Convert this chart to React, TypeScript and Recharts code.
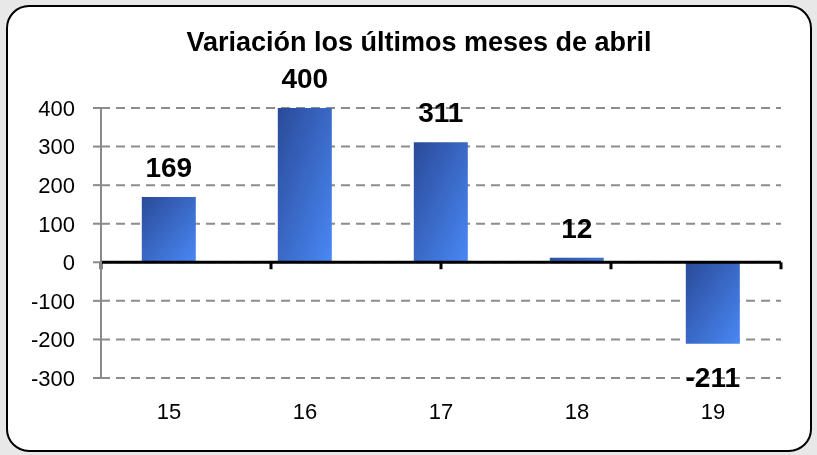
import React from 'react';
import {
  BarChart,
  Bar,
  XAxis,
  YAxis,
  CartesianGrid,
  ReferenceLine,
  LabelList,
} from 'recharts';

const years = ['15', '16', '17', '18', '19'];
const variation = [169, 400, 311, 12, -211];
const yTicks = [-300, -200, -100, 0, 100, 200, 300, 400];

const data = years.map((year, i) => ({ year, value: variation[i] }));
const boundaries = Array.from({ length: years.length + 1 }, (_, i) => i);

const FONT = '"Liberation Sans", Arial, sans-serif';

const renderLabel = (props: any) => {
  const { x, y, width, height, value } = props;
  const top = Math.min(y, y + height);
  const bottom = Math.max(y, y + height);
  const cx = x + width / 2;
  const ty = value >= 0 ? top - 20 : bottom + 43;
  return (
    <text x={cx} y={ty} textAnchor="middle" fontFamily={FONT} fontWeight="bold" fontSize={28} fill="#000">
      {value}
    </text>
  );
};

export default function App() {
  return (
    <div style={{ position: 'fixed', left: 0, top: 0, width: 817, height: 455, background: '#e8e8e8', fontFamily: FONT }}>
      {/* rounded frame behind the chart */}
      <svg width={817} height={455} style={{ position: 'absolute', left: 0, top: 0 }}>
        <rect x={7} y={6} width={804} height={445} rx={22} ry={22} fill="#fff" stroke="#000" strokeWidth={2} />
      </svg>
      <div
        style={{
          position: 'absolute',
          left: 0,
          top: 24,
          width: 838,
          textAlign: 'center',
          fontSize: 27,
          lineHeight: '36px',
          fontWeight: 'bold',
          color: '#000',
        }}
      >
        Variación los últimos meses de abril
      </div>
      <div style={{ position: 'absolute', left: 0, top: 0 }}>
        <BarChart
          width={817}
          height={455}
          data={data}
          margin={{ top: 108, right: 36, left: 41, bottom: 37 }}
          barCategoryGap="30%"
        >
          <defs>
            <linearGradient id="barFill" x1="0" y1="0" x2="1" y2="1">
              <stop offset="0%" stopColor="#2a4a98" />
              <stop offset="100%" stopColor="#4988f5" />
            </linearGradient>
          </defs>
          <CartesianGrid vertical={false} stroke="#8c8c8c" strokeWidth={2} strokeDasharray="9 6" />
          <XAxis
            dataKey="year"
            axisLine={false}
            tickLine={false}
            tickSize={0}
            tickMargin={25}
            height={40}
            tick={{ fill: '#000', fontSize: 22, fontFamily: FONT }}
          />
          <XAxis xAxisId="b" type="number" domain={[0, years.length]} hide />
          <YAxis
            domain={[-300, 400]}
            ticks={yTicks}
            interval={0}
            width={60}
            axisLine={{ stroke: '#898989', strokeWidth: 2 }}
            tickLine={{ stroke: '#898989', strokeWidth: 2 }}
            tickSize={8}
            tickMargin={18}
            tick={{ fill: '#000', fontSize: 22, fontFamily: FONT }}
          />
          <Bar dataKey="value" fill="url(#barFill)" isAnimationActive={false}>
            <LabelList dataKey="value" content={renderLabel} />
          </Bar>
          <ReferenceLine y={0} stroke="#000" strokeWidth={3} />
          {boundaries.map((b) => (
            <ReferenceLine
              key={b}
              xAxisId="b"
              segment={[
                { x: b, y: 0 },
                { x: b, y: -18 },
              ]}
              stroke="#000"
              strokeWidth={3}
            />
          ))}
        </BarChart>
      </div>
    </div>
  );
}
